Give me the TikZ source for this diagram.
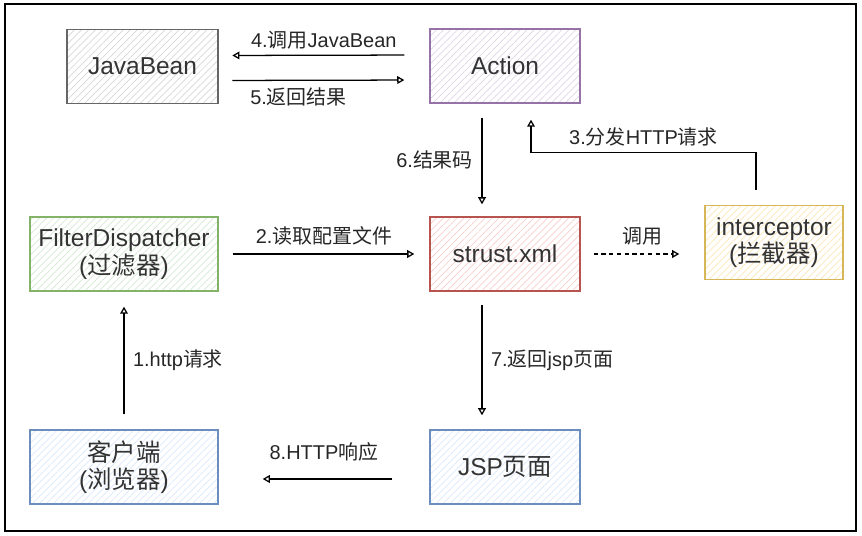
\documentclass[tikz,border=0pt]{standalone}
\usepackage{fontspec}
\setmainfont{Liberation Sans}
\newfontfamily\cjk{Noto Sans CJK SC}
\usetikzlibrary{arrows.meta,patterns.meta}
\definecolor{beanline}{HTML}{666666}
\definecolor{beanfill}{HTML}{D6D6D6}
\definecolor{actline}{HTML}{9673A6}
\definecolor{actfill}{HTML}{E1D5E7}
\definecolor{xmlline}{HTML}{B85450}
\definecolor{xmlfill}{HTML}{F8CECC}
\definecolor{icline}{HTML}{D6B656}
\definecolor{icfill}{HTML}{FCE6B8}
\definecolor{fdline}{HTML}{82B366}
\definecolor{fdfill}{HTML}{D5E8D4}
\definecolor{webline}{HTML}{6C8EBF}
\definecolor{webfill}{HTML}{DAE8FC}

\begin{document}
\begin{tikzpicture}[x=0.025cm,y=-0.025cm,
  box/.style 2 args={draw=#1,line width=1pt,align=center,text=black!80,
    font=\fontsize{17.4}{19.6}\selectfont,inner sep=0pt,minimum height=1.85cm,
    pattern={Lines[angle=45,distance=3.5pt,line width=0.5pt]},pattern color=#2},
  arr/.style={line width=0.9pt,-{Triangle[open,length=5pt,width=5.5pt]}},
  lbl/.style={font=\fontsize{14.2}{16}\selectfont,text=black!85,inner sep=2pt}]
\useasboundingbox (0,0) rectangle (862,536);
\draw[line width=1pt] (5,4) rectangle (856,531);

\node[box={beanline}{beanfill},minimum width=3.775cm] (jb) at (142.5,66.5) {JavaBean};
\node[box={actline}{actfill},minimum width=3.75cm] (act) at (505,66) {Action};
\node[box={fdline}{fdfill},minimum width=4.7cm] (fd) at (124,254) {FilterDispatcher\\({\cjk 过滤器})};
\node[box={xmlline}{xmlfill},minimum width=3.75cm] (sx) at (505,254) {strust.xml};
\node[box={icline}{icfill},minimum width=3.45cm] (ic) at (774,242.5) {interceptor\\({\cjk 拦截器})};
\node[box={webline}{webfill},minimum width=4.7cm] (kh) at (124,467) {{\cjk 客户端}\\({\cjk 浏览器})};
\node[box={webline}{webfill},minimum width=3.75cm] (jsp) at (505,467) {JSP{\cjk 页面}};

\draw[arr,shorten <=0.375cm,shorten >=0.375cm] (kh.north) -- node[lbl,right=4pt]{1.http{\cjk 请求}} (fd.north |- fd.south);
\draw[arr,shorten <=0.35cm,shorten >=0.375cm] (fd.east) -- node[lbl,above=4pt]{2.{\cjk 读取配置文件}} (sx.west);
\draw[arr,shorten <=0.375cm,shorten >=0.4cm] ([xshift=-0.45cm]ic.north) -- ++(0,-52) -| node[lbl,pos=0.25,above=2pt]{3.{\cjk 分发}HTTP{\cjk 请求}} ([xshift=0.65cm]act.south);
\draw[arr,shorten <=0.625cm,shorten >=0.35cm] ([shift={(0,-11)}]act.west) -- node[lbl,above=2pt]{4.{\cjk 调用}JavaBean} ([shift={(0,-11)}]jb.east);
\draw[arr,shorten <=0.35cm,shorten >=0.625cm] ([shift={(0,14)}]jb.east) -- node[lbl,below=3pt,pos=0.38]{5.{\cjk 返回结果}} ([shift={(0,14)}]act.west);
\draw[arr,shorten <=0.35cm,shorten >=0.3cm] ([xshift=-0.575cm]act.south) -- node[lbl,left=4pt]{6.{\cjk 结果码}} ([xshift=-0.575cm]sx.north);
\draw[arr,shorten <=0.325cm,shorten >=0.35cm] ([xshift=-0.575cm]sx.south) -- node[lbl,right=4pt]{7.{\cjk 返回}jsp{\cjk 页面}} ([xshift=-0.575cm]jsp.north);
\draw[arr,shorten <=0.925cm,shorten >=1.1cm] ([shift={(0,12)}]jsp.west) -- node[lbl,above=10pt]{8.HTTP{\cjk 响应}} ([shift={(0,12)}]kh.east);
\draw[arr,dash pattern=on 3pt off 2.5pt,shorten <=0.325cm,shorten >=0.625cm] (sx.east) -- node[lbl,above=4pt]{\cjk 调用} (sx.east -| ic.west);
\end{tikzpicture}
\end{document}
